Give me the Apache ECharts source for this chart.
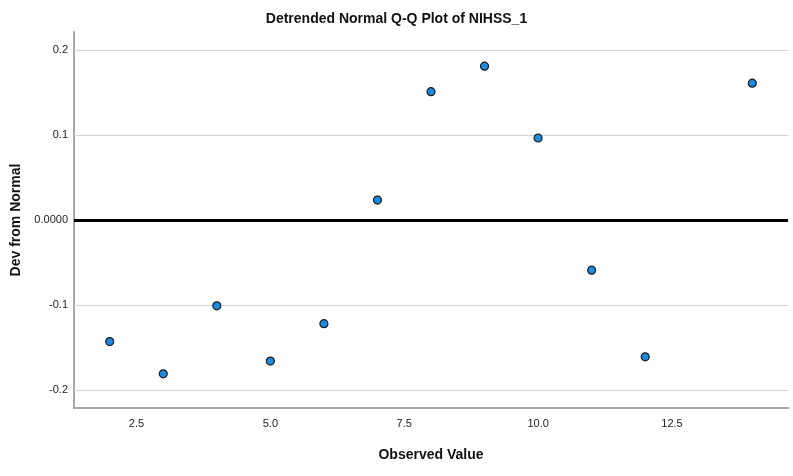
<!DOCTYPE html>
<html>
<head>
<meta charset="utf-8">
<script src="https://cdn.jsdelivr.net/npm/echarts@6/dist/echarts.min.js"></script>
<style>
  html, body { margin: 0; padding: 0; background: #fff; }
  #chart { width: 793px; height: 476px; }
</style>
</head>
<body>
<div id="chart"></div>
<script>
// observed values and deviation from normal
var observed = [2, 3, 4, 5, 6, 7, 8, 9, 10, 11, 12, 14];
var devNormal = [-0.143, -0.181, -0.101, -0.166, -0.122, 0.0235, 0.151, 0.181, 0.0965, -0.059, -0.161, 0.161];

var xTicks = [2.5, 5.0, 7.5, 10.0, 12.5];
var yTicks = [-0.2, -0.1, 0.1, 0.2];

var points = [];
for (var i = 0; i < observed.length; i++) {
    points.push([observed[i], devNormal[i]]);
}

// gridlines as marklines, zero line drawn thick and black
var lines = [];
yTicks.forEach(function (v) {
    lines.push({ yAxis: v, lineStyle: { color: '#d4d4d4', width: 1, type: 'solid' } });
});
lines.push({ yAxis: 0, lineStyle: { color: '#000', width: 3, type: 'solid' } });

var chart = echarts.init(document.getElementById('chart'));
var option = {
    animation: false,
    title: {
        text: 'Detrended Normal Q-Q Plot of NIHSS_1',
        left: 'center',
        top: 7,
        textStyle: { fontFamily: 'Liberation Sans, Arial', fontSize: 14, fontWeight: 'bold', color: '#111' }
    },
    grid: { left: 74, right: 5, top: 32, bottom: 68 },
    xAxis: {
        type: 'value',
        min: 1.333,
        max: 14.667,
        name: 'Observed Value',
        nameLocation: 'middle',
        nameGap: 40,
        nameTextStyle: { fontFamily: 'Liberation Sans, Arial', fontSize: 14, fontWeight: 'bold', color: '#111' },
        axisLine: { show: true, onZero: false, lineStyle: { color: '#a8a8a8', width: 2 } },
        axisTick: { show: false },
        splitLine: { show: false },
        axisLabel: {
            customValues: xTicks,
            margin: 10,
            fontFamily: 'Liberation Sans, Arial',
            fontSize: 11,
            color: '#222',
            formatter: function (v) { return v.toFixed(1); }
        }
    },
    yAxis: {
        type: 'value',
        min: -0.2212,
        max: 0.2212,
        name: 'Dev from Normal',
        nameLocation: 'middle',
        nameGap: 50,
        nameTextStyle: { fontFamily: 'Liberation Sans, Arial', fontSize: 14, fontWeight: 'bold', color: '#111' },
        axisLine: { show: true, onZero: false, lineStyle: { color: '#a8a8a8', width: 2 } },
        axisTick: { show: false },
        splitLine: { show: false },
        axisLabel: {
            customValues: [-0.2, -0.1, 0, 0.1, 0.2],
            margin: 6,
            fontFamily: 'Liberation Sans, Arial',
            fontSize: 11,
            color: '#222',
            formatter: function (v) { return Math.abs(v) < 1e-9 ? '0.0000' : v.toFixed(1); }
        }
    },
    series: [{
        type: 'scatter',
        data: points,
        symbol: 'circle',
        symbolSize: 8,
        itemStyle: { color: '#1a8be0', borderColor: '#1b1b1b', borderWidth: 1.2, opacity: 1 },
        z: 5,
        markLine: {
            silent: true,
            symbol: 'none',
            label: { show: false },
            data: lines,
            z: 1
        }
    }]
};
chart.setOption(option);
</script>
</body>
</html>
